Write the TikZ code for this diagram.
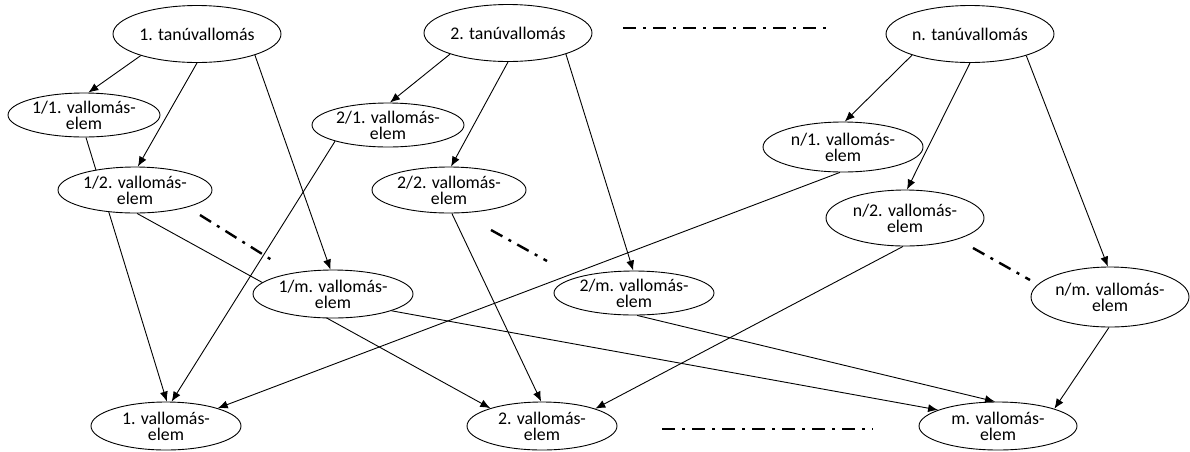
\documentclass[tikz,border=0pt]{standalone}
\usepackage{fontspec}
\setmainfont{Carlito}
\usetikzlibrary{shapes.geometric,arrows.meta,backgrounds}

\tikzset{
  testimony/.style={ellipse,draw,fill=white,line width=0.9pt,inner sep=0pt,minimum width=168pt,minimum height=57pt},
  part/.style={ellipse,draw,fill=white,line width=0.9pt,inner xsep=0pt,inner ysep=-2pt,align=center,minimum width=152pt,minimum height=44pt},
  link/.style={->,line width=0.9pt},
  gap/.style={line width=2.4pt,dash pattern=on 13pt off 7pt on 3pt off 7pt}
}

\begin{document}
\begin{tikzpicture}[x=1pt, y=-1pt, >={Latex[length=10pt,width=8pt]}, font=\fontsize{17.8}{16}\selectfont]
    \useasboundingbox (0,0) rectangle (1190,451);

    \node[testimony] (t1) at (197,34) {1. tanúvallomás};
    \node[testimony] (t2) at (508,33) {2. tanúvallomás};
    \node[testimony] (tn) at (970,34) {n. tanúvallomás};

    \node[part] (e11) at (84,115) {1/1. vallomás-\\elem};
    \node[part,minimum width=154pt,minimum height=46pt] (e12) at (135,190) {1/2. vallomás-\\elem};
    \node[part,minimum width=160pt,minimum height=48pt] (e1m) at (333,294) {1/m. vallomás-\\elem};
    \node[part] (e21) at (388,125) {2/1. vallomás-\\elem};
    \node[part,minimum width=154pt,minimum height=46pt] (e22) at (449,190) {2/2. vallomás-\\elem};
    \node[part,minimum width=160pt] (e2m) at (634,293) {2/m. vallomás-\\elem};
    \node[part,minimum width=160pt,minimum height=50pt] (en1) at (843,147) {n/1. vallomás-\\elem};
    \node[part,minimum width=158pt,minimum height=56pt] (en2) at (905,218) {n/2. vallomás-\\elem};
    \node[part,minimum width=158pt,minimum height=60pt] (enm) at (1110,297) {n/m. vallomás-\\elem};

    \node[part,minimum width=150pt,minimum height=48pt] (v1) at (166,426) {1. vallomás-\\elem};
    \node[part,minimum width=150pt,minimum height=48pt] (v2) at (542,426) {2. vallomás-\\elem};
    \node[part,minimum width=158pt,minimum height=48pt] (vm) at (998,426) {m. vallomás-\\elem};

    \coordinate (g1a) at (623,28); \coordinate (g1b) at (833,28);
    \coordinate (g2a) at (662,429); \coordinate (g2b) at (873,429);
    \coordinate (g3a) at (200,215); \coordinate (g3b) at (275,262);
    \coordinate (g4a) at (491,230); \coordinate (g4b) at (547,261);
    \coordinate (g5a) at (973,248); \coordinate (g5b) at (1030,280);

    \begin{scope}[on background layer]
    \draw[link] (t1.201)--(e11.79); \draw[link] (t1.270)--(e12.83); \draw[link] (t1.340)--(e1m.96);
    \draw[link] (t2.200)--(e21.85); \draw[link] (t2.270)--(e22.85); \draw[link] (t2.340)--(e2m.92);
    \draw[link] (tn.200)--(en1.86); \draw[link] (tn.270)--(en2.86); \draw[link] (tn.339)--(enm.94);
    \draw[link] (e11.275)--(v1.88); \draw[link] (e21.197)--(v1.77); \draw[link] (en1.263)--(v1.19);
    \draw[link] (e12.275)--(v2.161); \draw[link] (e22.277)--(v2.92); \draw[link] (en2.266)--(v2.18);
    \draw[link] (e1m.344)--(vm.165); \draw[link] (e2m.278)--(vm.97); \draw[link] (enm.268)--(vm.17);
    \end{scope}

    \draw[gap] (g1a)--(g1b); \draw[gap] (g2a)--(g2b);
    \draw[gap] (g3a)--(g3b); \draw[gap] (g4a)--(g4b); \draw[gap] (g5a)--(g5b);
\end{tikzpicture}
\end{document}
